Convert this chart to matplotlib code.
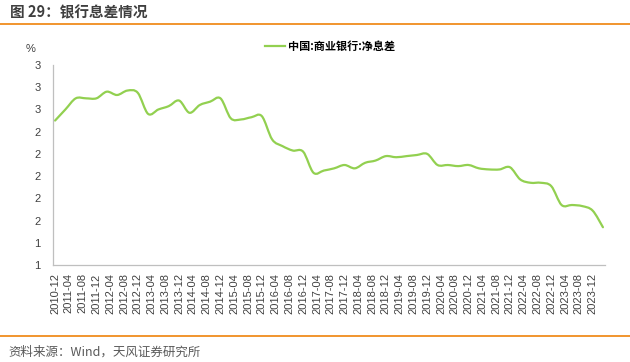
import numpy as np
import pandas as pd
import matplotlib
matplotlib.use('Agg')
import matplotlib.pyplot as plt
from matplotlib.path import Path
from matplotlib.patches import PathPatch
from matplotlib.lines import Line2D
from matplotlib.ticker import FormatStrFormatter

plt.rcParams['font.family'] = ['Liberation Sans', 'Noto Sans CJK SC', 'DejaVu Sans']

# quarterly net interest margin, 2010-12 .. 2024-03
dates = pd.date_range('2010-12-01', '2024-03-01', freq='3MS')
nim = [2.50, 2.60, 2.70, 2.70, 2.70, 2.76, 2.73, 2.77, 2.75,
       2.56, 2.60, 2.63, 2.68, 2.57, 2.64, 2.67, 2.70,
       2.52, 2.51, 2.53, 2.54, 2.33, 2.27, 2.23, 2.22,
       2.03, 2.05, 2.07, 2.10, 2.07, 2.12, 2.14, 2.18,
       2.17, 2.18, 2.19, 2.20, 2.10, 2.10, 2.09, 2.10,
       2.07, 2.06, 2.06, 2.08, 1.97, 1.94, 1.94, 1.91,
       1.74, 1.74, 1.73, 1.69, 1.54]
tick_dates = pd.date_range('2010-12-01', '2023-12-01', freq='4MS')
tick_labels = list(tick_dates.strftime('%Y-%m'))
y_ticks = [1.2, 1.4, 1.6, 1.8, 2.0, 2.2, 2.4, 2.6, 2.8, 3.0]
series_name = '中国:商业银行:净息差'

green = '#92D050'
orange = '#F08C1E'
grey_txt = '#595959'
cjk = ['Noto Sans CJK SC', 'DejaVu Sans']


def month_index(d):
    return (d.year - 2010) * 12 + d.month - 12


x = np.array([month_index(d) for d in dates], dtype=float)
y = np.array(nim)
tx = [month_index(d) for d in tick_dates]

fig = plt.figure(figsize=(6.3, 3.62), dpi=100)
ax = fig.add_axes([53 / 630, 1 - 265 / 362, 552 / 630, 200 / 362])

# smoothed line (Catmull-Rom -> cubic Bezier), like the spreadsheet chart
pts = np.column_stack([x, y])
ext = np.vstack([pts[0], pts, pts[-1]])
verts = [pts[0]]
codes = [Path.MOVETO]
for i in range(len(pts) - 1):
    p0, p1, p2, p3 = ext[i], ext[i + 1], ext[i + 2], ext[i + 3]
    verts += [p1 + (p2 - p0) / 6, p2 - (p3 - p1) / 6, p2]
    codes += [Path.CURVE4] * 3
ax.add_patch(PathPatch(Path(verts, codes), fill=False, edgecolor=green, lw=1.6,
                       capstyle='round', joinstyle='round'))

ax.set_xlim(-0.6, 159.6)
ax.set_ylim(1.2, 3.0)
ax.set_yticks(y_ticks)
ax.yaxis.set_major_formatter(FormatStrFormatter('%.0f'))
ax.set_xticks(tx)
ax.set_xticklabels(tick_labels, rotation=90)
ax.tick_params(axis='both', length=0, labelsize=8, labelcolor='#404040')
ax.tick_params(axis='y', pad=9)
ax.tick_params(axis='x', pad=6)
for s in ['top', 'right']:
    ax.spines[s].set_visible(False)
for s in ['left', 'bottom']:
    ax.spines[s].set_color('#BFBFBF')
    ax.spines[s].set_linewidth(0.9)

ax.legend([Line2D([], [], color=green, lw=1.6)], [series_name],
          loc='center left', bbox_to_anchor=(265 / 630, 1 - 46 / 362),
          bbox_transform=fig.transFigure, frameon=False, borderpad=0,
          borderaxespad=0, handlelength=1.8, handletextpad=0.3,
          prop={'family': cjk, 'size': 8, 'weight': 'bold'})

fig.text(31 / 630, 1 - 49 / 362, '%', ha='center', va='center', fontsize=8, color='#404040')

fig.text(10 / 630, 1 - 12.5 / 362, '图 29：银行息差情况', ha='left', va='center',
         fontsize=10.5, fontweight='bold', color='#3F3F3F', family=cjk)
fig.add_artist(Line2D([0, 1], [1 - 24 / 362] * 2, color=orange, lw=1.3))
fig.add_artist(Line2D([0, 1], [1 - 336 / 362] * 2, color=orange, lw=1.3))
fig.text(8 / 630, 1 - 352 / 362, '资料来源：Wind，天风证券研究所', ha='left', va='center',
         fontsize=9, color=grey_txt, family=cjk)

fig.savefig('out.png', dpi=100)
